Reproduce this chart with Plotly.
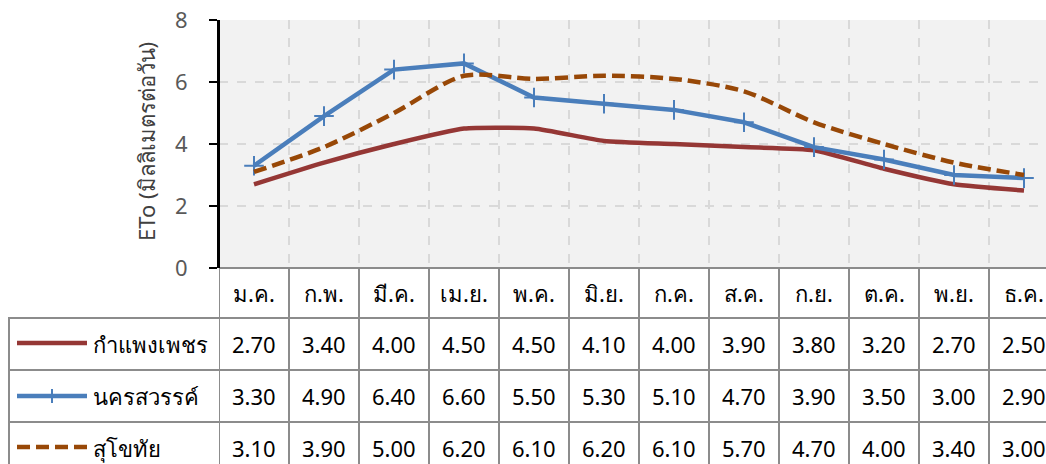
import plotly.graph_objects as go

W, H = 1046, 464

months = ['ม.ค.', 'ก.พ.', 'มี.ค.', 'เม.ย.', 'พ.ค.', 'มิ.ย.', 'ก.ค.', 'ส.ค.', 'ก.ย.', 'ต.ค.', 'พ.ย.', 'ธ.ค.']
kamphaeng = [2.70, 3.40, 4.00, 4.50, 4.50, 4.10, 4.00, 3.90, 3.80, 3.20, 2.70, 2.50]
nakhon = [3.30, 4.90, 6.40, 6.60, 5.50, 5.30, 5.10, 4.70, 3.90, 3.50, 3.00, 2.90]
sukhothai = [3.10, 3.90, 5.00, 6.20, 6.10, 6.20, 6.10, 5.70, 4.70, 4.00, 3.40, 3.00]
series_names = ['กำแพงเพชร', 'นครสวรรค์', 'สุโขทัย']
y_ticks = [0, 2, 4, 6, 8]
y_title = 'ETo (มิลลิเมตรต่อวัน)'

FONT = "'Noto Sans', Tahoma, sans-serif"
RED, BLUE, BROWN = '#953735', '#4a7ebb', '#984807'
BORDER = '#8c8c8c'


def px(x):
    return x / W


def py(y):
    return 1 - y / H


x_idx = list(range(len(months)))
unit = 70.0
x_end = -0.5 + (W - 219) / unit

fig = go.Figure()
fig.add_trace(go.Scatter(x=x_idx, y=kamphaeng, mode='lines', name=series_names[0],
                         line=dict(color=RED, width=4.5, shape='spline', smoothing=0.5)))
fig.add_trace(go.Scatter(x=x_idx, y=nakhon, mode='lines+markers', name=series_names[1],
                         line=dict(color=BLUE, width=4.5),
                         marker=dict(symbol='cross-thin', size=14, line=dict(color=BLUE, width=2))))
fig.add_trace(go.Scatter(x=x_idx, y=sukhothai, mode='lines', name=series_names[2],
                         line=dict(color=BROWN, width=4.5, dash='13px,6px', shape='spline', smoothing=0.8)))

shapes = []
annotations = []

# x-axis line / table top
shapes.append(dict(type='line', xref='paper', yref='paper', x0=px(219), x1=1, y0=py(268), y1=py(268),
                   line=dict(color=BORDER, width=2)))
# table horizontal lines
for yy in [318, 370, 422]:
    shapes.append(dict(type='line', xref='paper', yref='paper', x0=px(8), x1=1, y0=py(yy), y1=py(yy),
                       line=dict(color=BORDER, width=2)))
# left border of table
shapes.append(dict(type='line', xref='paper', yref='paper', x0=px(9), x1=px(9), y0=py(318), y1=py(480),
                   line=dict(color=BORDER, width=2)))
# vertical column lines
for i in range(len(months) + 1):
    shapes.append(dict(type='line', xref='x', yref='paper', x0=i - 0.5, x1=i - 0.5, y0=py(268), y1=py(480),
                       line=dict(color=BORDER, width=2)))
# y axis line (black) on top
shapes.append(dict(type='line', xref='paper', yref='y', x0=px(219), x1=px(219), y0=0, y1=8,
                   line=dict(color='#000000', width=2)))

TXT = dict(size=22, color='#000000', family=FONT)
for i, m in enumerate(months):
    annotations.append(dict(x=i, y=py(293), xref='x', yref='paper', text=m, showarrow=False,
                            yanchor='middle', font=TXT))

rows = [kamphaeng, nakhon, sukhothai]
row_centers = [344, 396, 448]
for r, (vals, yc) in enumerate(zip(rows, row_centers)):
    for i, v in enumerate(vals):
        annotations.append(dict(x=i, y=py(yc), xref='x', yref='paper', text=f'{v:.2f}', showarrow=False,
                                yanchor='middle', font=TXT))
    annotations.append(dict(x=px(91), y=py(yc), xref='paper', yref='paper', text=series_names[r],
                            showarrow=False, xanchor='left', yanchor='middle', font=TXT))

# axis title
annotations.append(dict(x=px(146), y=py(142), xref='paper', yref='paper', text=y_title, textangle=-90,
                        showarrow=False, xanchor='center', yanchor='middle',
                        font=dict(size=22, color='#404040', family=FONT)))

# legend keys
shapes.append(dict(type='line', xref='paper', yref='paper', x0=px(17), x1=px(87), y0=py(343), y1=py(343),
                   line=dict(color=RED, width=4.5)))
shapes.append(dict(type='line', xref='paper', yref='paper', x0=px(17), x1=px(87), y0=py(396), y1=py(396),
                   line=dict(color=BLUE, width=4.5)))
shapes.append(dict(type='line', xref='paper', yref='paper', x0=px(52), x1=px(52), y0=py(389), y1=py(403),
                   line=dict(color=BLUE, width=2)))
shapes.append(dict(type='line', xref='paper', yref='paper', x0=px(17), x1=px(87), y0=py(447), y1=py(447),
                   line=dict(color=BROWN, width=4.5, dash='13px,6px')))

fig.update_layout(
    width=W, height=H,
    margin=dict(l=0, r=0, t=0, b=0, autoexpand=False),
    paper_bgcolor='white',
    plot_bgcolor='#f2f2f2',
    showlegend=False,
    font=dict(family=FONT),
    shapes=shapes,
    annotations=annotations,
    xaxis=dict(domain=[px(219), 1], range=[-0.5, x_end], tickvals=[i - 0.5 for i in range(13)],
               showticklabels=False, showgrid=True, gridcolor='#d9d9d9', griddash='dash', gridwidth=1.5,
               zeroline=False, showline=False, ticks=''),
    yaxis=dict(domain=[py(268), py(20)], range=[0, 8], tickvals=y_ticks, ticklabeloverflow='allow',
               showgrid=True, gridcolor='#d9d9d9', griddash='dash', gridwidth=1.5,
               zeroline=False, showline=True, linecolor='#000000', linewidth=2,
               ticks='outside', ticklen=8, tickcolor='#000000', tickwidth=2, ticklabelstandoff=17,
               tickfont=dict(size=22, color='#595959', family=FONT)),
)

fig.write_html('out.html', config={'displayModeBar': False},
               post_script="document.body.style.margin='0';document.body.style.overflow='hidden';")
